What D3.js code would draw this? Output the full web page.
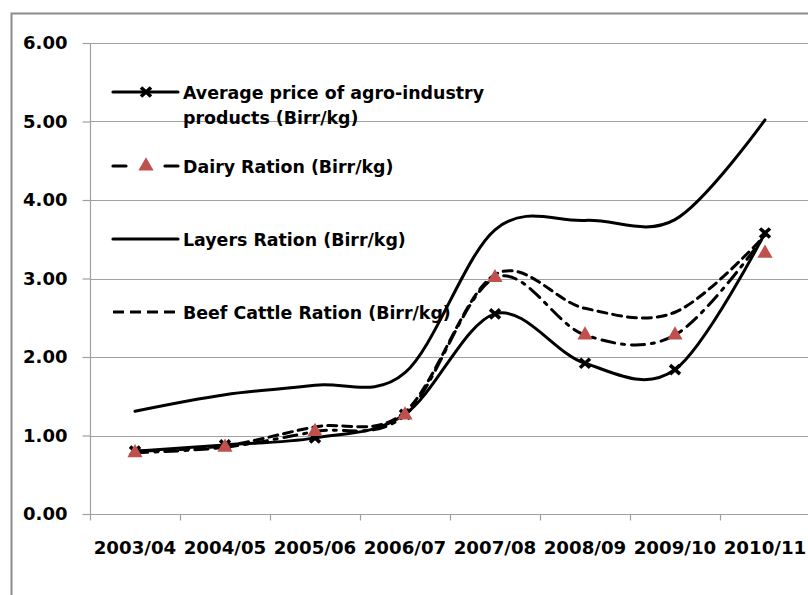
<!DOCTYPE html>
<html>
<head>
<meta charset="utf-8">
<script src="https://cdn.jsdelivr.net/npm/d3@7"></script>
<style>
  html, body { margin: 0; padding: 0; background: #fff; }
  svg { display: block; }
  text { font-family: "DejaVu Sans", sans-serif; font-weight: bold; fill: #000; }
</style>
</head>
<body>
<svg id="chart" width="808" height="595"></svg>
<script>
// Marketing years on the horizontal axis
const categories = ["2003/04", "2004/05", "2005/06", "2006/07", "2007/08", "2008/09", "2009/10", "2010/11"];

// Prices in Birr/kg
const avgPrice        = [0.80, 0.88, 0.97, 1.27, 2.55, 1.92, 1.84, 3.58];
const dairyRation     = [0.78, 0.85, 1.05, 1.26, 3.01, 2.28, 2.28, 3.32];
const dairyRationLine = [0.78, 0.85, 1.05, 1.26, 3.01, 2.28, 2.28, 3.55];
const layersRation    = [1.31, 1.52, 1.64, 1.80, 3.62, 3.74, 3.75, 5.02];
const beefRation      = [0.80, 0.87, 1.11, 1.30, 3.05, 2.62, 2.57, 3.55];

const yTicks = [0, 1, 2, 3, 4, 5, 6];

const legendLabels = [
  ["Average price of agro-industry", "products (Birr/kg)"],
  ["Dairy Ration (Birr/kg)"],
  ["Layers Ration (Birr/kg)"],
  ["Beef Cattle Ration (Birr/kg)"]
];

const svg = d3.select("#chart");
const plot = { left: 90, right: 810, top: 43, bottom: 514 };

const x = d3.scaleBand().domain(categories).range([plot.left, plot.right]);
const cx = c => x(c) + x.bandwidth() / 2;
const y = d3.scaleLinear().domain([0, 6]).range([plot.bottom, plot.top]);

// Outer chart frame
svg.append("path")
  .attr("d", "M11.5,600 V13.5 H820")
  .attr("fill", "none").attr("stroke", "#8c8c8c").attr("stroke-width", 2);

// Horizontal gridlines
svg.append("g").selectAll("line").data(yTicks.filter(d => d > 0)).join("line")
  .attr("x1", plot.left).attr("x2", 808)
  .attr("y1", d => Math.round(y(d)) + 0.5).attr("y2", d => Math.round(y(d)) + 0.5)
  .attr("stroke", "#a0a0a0").attr("stroke-width", 1.2);

// Y axis
const yAxis = svg.append("g")
  .attr("transform", `translate(${plot.left + 0.5},0)`)
  .call(d3.axisLeft(y).tickValues(yTicks).tickFormat(d3.format(".2f")).tickSize(8).tickPadding(15));
yAxis.selectAll("path, line").attr("stroke", "#a0a0a0").attr("stroke-width", 1.2);
yAxis.selectAll("text").attr("font-size", 18).attr("font-family", "DejaVu Sans").attr("font-weight", "bold").attr("fill", "#000");
yAxis.select(".domain").attr("d", `M0,${plot.top}V${plot.bottom}`);

// X axis: baseline, tick marks at band boundaries, centred labels
const xAxis = svg.append("g").attr("transform", `translate(0,${Math.round(y(0)) + 0.5})`);
xAxis.append("line").attr("x1", plot.left).attr("x2", 808)
  .attr("stroke", "#a0a0a0").attr("stroke-width", 1.2);
const boundaries = categories.map(c => x(c)).concat([plot.right]);
xAxis.selectAll("line.tick").data(boundaries).join("line").attr("class", "tick")
  .attr("x1", d => d + 0.5).attr("x2", d => d + 0.5).attr("y1", 0).attr("y2", 6)
  .attr("stroke", "#a0a0a0").attr("stroke-width", 1.2);
xAxis.selectAll("text").data(categories).join("text")
  .attr("x", d => cx(d)).attr("y", 39.5)
  .attr("text-anchor", "middle").attr("font-size", 18.2)
  .text(d => d);

// Series lines (smoothed)
const line = d3.line().x((d, i) => cx(categories[i])).y(d => y(d)).curve(d3.curveCardinal.tension(0));

const series = [
  { values: layersRation, dash: null },
  { values: beefRation, dash: "9,6" },
  { values: dairyRationLine, dash: "13,7,3,7" },
  { values: avgPrice, dash: null }
];
svg.append("g").selectAll("path").data(series).join("path")
  .attr("d", d => line(d.values))
  .attr("fill", "none").attr("stroke", "#000").attr("stroke-width", 3)
  .attr("stroke-linecap", "round")
  .attr("stroke-dasharray", d => d.dash);

// Markers
const tri = d3.symbol().type(d3.symbolTriangle).size(100);
const cross = "M-5,-4.5L5,4.5M-5,4.5L5,-4.5";

svg.append("g").selectAll("path").data(avgPrice).join("path")
  .attr("transform", (d, i) => `translate(${cx(categories[i])},${y(d)})`)
  .attr("d", cross).attr("stroke", "#000").attr("stroke-width", 3.6).attr("fill", "none");

svg.append("g").selectAll("path").data(dairyRation).join("path")
  .attr("transform", (d, i) => `translate(${cx(categories[i])},${y(d)})`)
  .attr("d", tri).attr("fill", "#c0504d");

// Legend
const legend = svg.append("g");
const legendRows = [92, 166, 239, 312];
const lx1 = 113, lx2 = 178, lmid = 146;

// Average price: solid line with cross marker
legend.append("line").attr("x1", lx1).attr("x2", lx2).attr("y1", legendRows[0]).attr("y2", legendRows[0])
  .attr("stroke", "#000").attr("stroke-width", 3.2).attr("stroke-linecap", "round");
legend.append("path").attr("transform", `translate(${lmid},${legendRows[0]})`)
  .attr("d", cross).attr("stroke", "#000").attr("stroke-width", 3.6);

// Dairy: dashes either side of a triangle
legend.append("line").attr("x1", lx1).attr("x2", lx1 + 13).attr("y1", legendRows[1]).attr("y2", legendRows[1])
  .attr("stroke", "#000").attr("stroke-width", 3.2).attr("stroke-linecap", "round");
legend.append("line").attr("x1", lx2 - 13).attr("x2", lx2).attr("y1", legendRows[1]).attr("y2", legendRows[1])
  .attr("stroke", "#000").attr("stroke-width", 3.2).attr("stroke-linecap", "round");
legend.append("path").attr("transform", `translate(${lmid},${legendRows[1]})`)
  .attr("d", tri).attr("fill", "#c0504d");

// Layers: solid line
legend.append("line").attr("x1", lx1).attr("x2", lx2).attr("y1", legendRows[2]).attr("y2", legendRows[2])
  .attr("stroke", "#000").attr("stroke-width", 3.2).attr("stroke-linecap", "round");

// Beef cattle: dashed line
legend.append("line").attr("x1", lx1).attr("x2", lx2).attr("y1", legendRows[3]).attr("y2", legendRows[3])
  .attr("stroke", "#000").attr("stroke-width", 3.2).attr("stroke-dasharray", "11,6");

legendLabels.forEach((lines, i) => {
  const t = legend.append("text").attr("x", 183).attr("y", legendRows[i] + 6.5).attr("font-size", 17.4);
  lines.forEach((s, j) => {
    t.append("tspan").attr("x", 183).attr("dy", j === 0 ? 0 : 25).text(s);
  });
});
</script>
</body>
</html>
